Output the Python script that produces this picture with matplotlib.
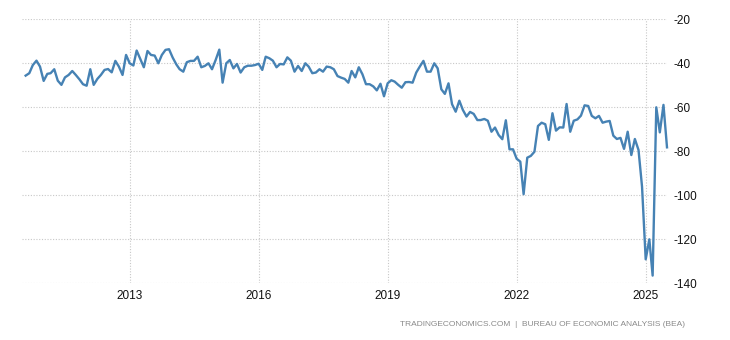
import pandas as pd
import matplotlib
matplotlib.use("Agg")
import matplotlib.pyplot as plt
import matplotlib.dates as mdates

first_month = "2010-08-01"
y2010 = [-45.6, -44.5, -40.8, -38.8, -41.5]
y2011 = [-48.0, -44.8, -44.5, -42.7, -47.9, -49.8, -46.4, -45.3, -43.5, -45.3, -47.3, -49.5]
y2012 = [-50.2, -42.7, -49.8, -47.1, -45.3, -43.0, -42.6, -44.1, -38.9, -41.5, -45.3, -36.2]
y2013 = [-40.0, -41.0, -34.2, -38.0, -41.8, -34.4, -36.2, -36.5, -40.0, -36.2, -33.9, -33.6]
y2014 = [-37.4, -40.5, -42.7, -43.8, -39.5, -38.9, -38.9, -37.0, -41.8, -41.2, -40.0, -42.7]
y2015 = [-38.5, -33.8, -48.8, -40.0, -38.5, -42.3, -40.3, -44.2, -41.8, -41.1, -41.1, -40.8]
y2016 = [-40.2, -43.0, -37.0, -37.7, -38.8, -41.8, -40.3, -40.5, -37.3, -38.8, -43.8, -41.2]
y2017 = [-43.5, -40.0, -41.5, -44.5, -44.2, -42.7, -43.8, -41.5, -41.8, -42.7, -45.8, -46.5]
y2018 = [-47.1, -48.8, -43.5, -46.4, -41.8, -45.0, -49.5, -49.5, -50.5, -52.3, -49.3, -55.0]
y2019 = [-49.1, -47.7, -48.3, -49.8, -51.1, -48.6, -48.5, -48.8, -44.2, -41.5, -38.9, -43.8]
y2020 = [-43.8, -40.0, -42.3, -51.8, -53.9, -49.1, -58.6, -62.0, -57.0, -61.2, -64.2, -62.1]
y2021 = [-63.0, -65.8, -65.8, -65.3, -66.1, -71.1, -69.2, -72.6, -74.5, -65.9, -79.1, -79.1]
y2022 = [-83.4, -84.7, -99.5, -82.9, -82.1, -80.2, -68.5, -67.0, -67.7, -74.8, -62.7, -70.6]
y2023 = [-69.1, -69.2, -58.5, -71.1, -66.1, -65.5, -63.8, -59.1, -59.4, -63.9, -65.0, -63.9]
y2024 = [-67.0, -66.5, -66.2, -72.9, -74.4, -73.9, -78.9, -71.1, -81.7, -74.4, -79.4, -96.1]
y2025 = [-129.1, -120.0, -136.5, -60.0, -71.4, -58.9, -78.2]

tick_years = [2013, 2016, 2019, 2022, 2025]
y_ticks = [-20, -40, -60, -80, -100, -120, -140]
source = "TRADINGECONOMICS.COM  |  BUREAU OF ECONOMIC ANALYSIS (BEA)"

balance = (y2010 + y2011 + y2012 + y2013 + y2014 + y2015 + y2016 + y2017
           + y2018 + y2019 + y2020 + y2021 + y2022 + y2023 + y2024 + y2025)
months = pd.date_range(first_month, periods=len(balance), freq="MS")

plt.rcParams.update({
    'font.family': ['Liberation Sans', 'DejaVu Sans'],
    'axes.unicode_minus': False,
})

fig = plt.figure(figsize=(7.3, 3.4), dpi=100)
ax = fig.add_axes([22 / 730, 1 - 283.3 / 340, 645 / 730, 264 / 340])

ax.plot(months, balance, color='#4682b4', lw=1.7, solid_joinstyle='round', clip_on=False)

ax.set_xlim(pd.Timestamp("2010-07-01"), pd.Timestamp("2025-07-01"))
ax.set_ylim(-140, -20)
ax.set_xticks([pd.Timestamp(f"{y}-01-01") for y in tick_years])
ax.xaxis.set_major_formatter(mdates.DateFormatter("%Y"))
ax.set_yticks(y_ticks)
ax.yaxis.tick_right()

for s in ax.spines.values():
    s.set_visible(False)
ax.tick_params(axis='both', length=0, labelsize=8.5, colors='#111111')
ax.tick_params(axis='y', pad=5)
ax.tick_params(axis='x', pad=5)
ax.grid(True, color='#c8c8c8', linestyle=(0, (1, 1.5)), linewidth=0.8)
ax.set_axisbelow(True)

fig.text(685 / 730, 1 - 325 / 340, source, ha='right', va='center', fontsize=6.0, color='#8a8a8a')

fig.savefig("out.png", dpi=100)
